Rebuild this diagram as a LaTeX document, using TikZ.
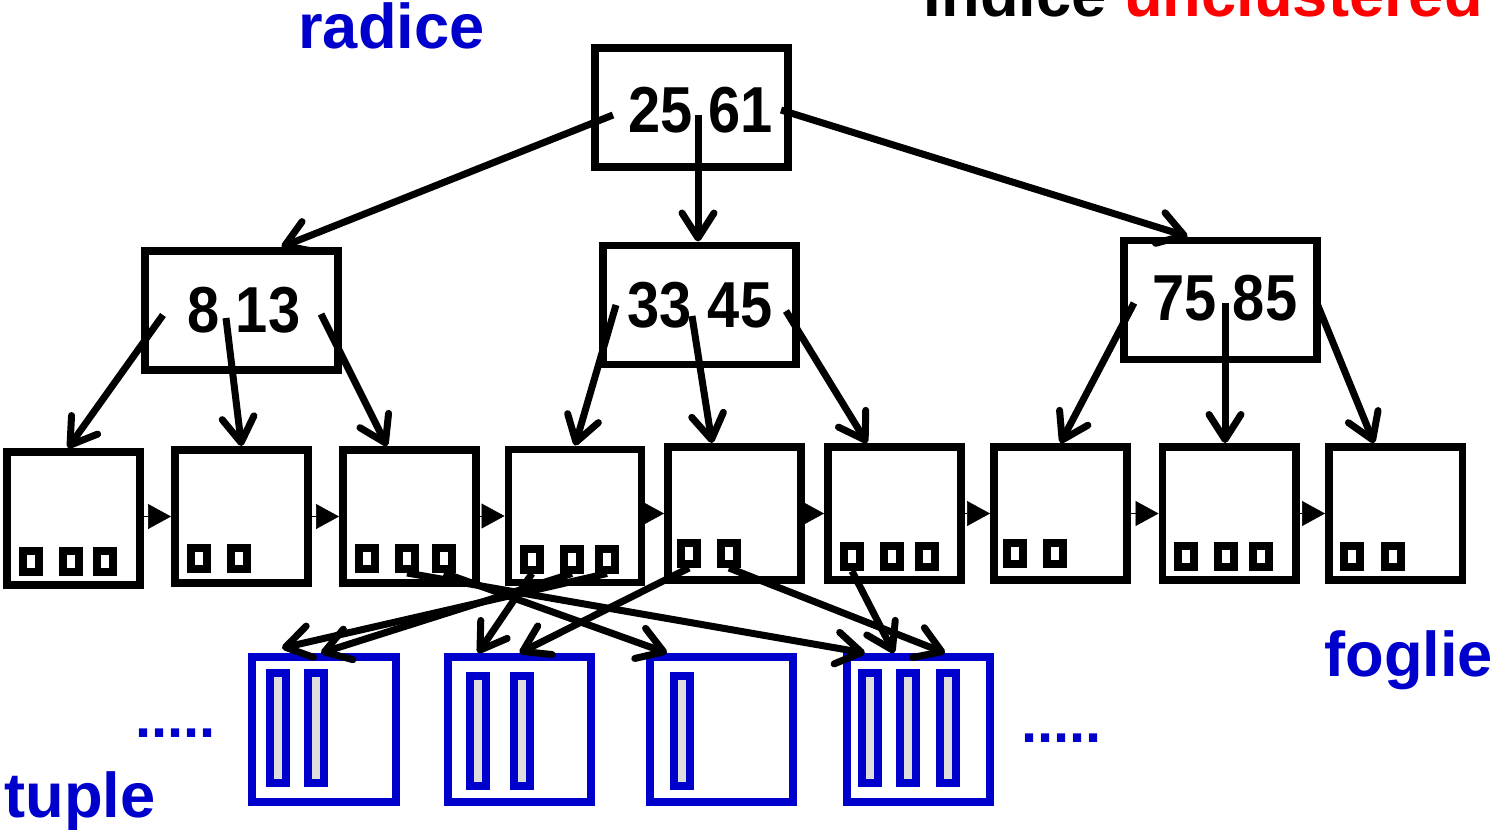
\documentclass[tikz,border=0pt]{standalone}
\usepackage{fontspec}
\setmainfont{Liberation Sans}
\newfontfamily\condfont[FakeStretch=0.89]{Liberation Sans}
\usetikzlibrary{arrows.meta,calc}
\definecolor{dblue}{RGB}{0,0,204}
\definecolor{lgray}{RGB}{221,221,221}
\begin{document}
\begin{tikzpicture}[x=0.02cm,y=-0.02cm,
  ibox/.style={draw, line width=0.15cm, minimum width=3.87cm, minimum height=2.39cm, inner sep=0},
  lbox/.style={draw, line width=0.15cm, minimum width=2.67cm, minimum height=2.67cm, inner sep=0},
  ptr/.style={draw, fill=white, line width=0.16cm, minimum width=0.32cm, minimum height=0.42cm, inner sep=0},
  tbox/.style={draw=dblue, line width=0.16cm, minimum width=2.88cm, minimum height=2.90cm, inner sep=0},
  tbar/.style={draw=dblue, fill=lgray, line width=0.16cm, minimum width=0.32cm, minimum height=2.20cm, inner sep=0},
  key/.style={font=\condfont\fontsize{37}{37}\selectfont\bfseries, inner sep=0, anchor=base},
  lbl/.style={font=\fontsize{36}{36}\selectfont\bfseries, inner sep=0, text=dblue, anchor=base west},
  dots/.style={font=\fontsize{33}{33}\selectfont\bfseries, inner sep=0, text=dblue, anchor=base west},
  arr/.style={line width=0.14cm, -{Straight Barb[length=0.5cm,width=0.64cm,round]}},
  link/.style={line width=0.01cm, -{Triangle[length=0.46cm,width=0.5cm]}}
]
\useasboundingbox (0,0) rectangle (1498,829);

% internal nodes
\node[ibox] (root) at (691.5,107.5) {};
\node[ibox] (I1) at (241.5,310.5) {};
\node[ibox] (I2) at (699.5,305) {};
\node[ibox] (I3) at (1220.5,300) {};
\node[key] (k0) at (700.5,132) {25 61};
\node[key] (k1) at (244,332) {8 13};
\node[key] (k2) at (700,327) {33 45};
\node[key] (k3) at (1225,320) {75 85};

% leaves
\foreach \n/\x/\y in {L1/73.5/518.5, L2/241.5/516.5, L3/409.5/516.5, L4/575/516,
  L5/734.5/513.5, L6/894.5/513.5, L7/1060.5/513.5, L8/1229/513.5, L9/1395.5/513.5}
  \node[lbox] (\n) at (\x,\y) {};

% pointers in leaves
\foreach \n/\x/\y in {L1a/31/561.5, L1b/71/561.5, L1c/105/561.5,
  L2a/199/558.5, L2b/238.5/558.5,
  L3a/366.5/558.5, L3b/407/558.5, L3c/444/558.5,
  L4a/532/559, L4b/572/559, L4c/607/559,
  L5a/689/553.5, L5b/729/553.5,
  L6a/852/556.5, L6b/892/556.5, L6c/927/556.5,
  L7a/1014.5/553.5, L7b/1055/553.5,
  L8a/1186/556.5, L8b/1226/556.5, L8c/1261/556.5,
  L9a/1352/556.5, L9b/1393/556.5}
  \node[ptr] (\n) at (\x,\y) {};

% sibling links
\foreach \a/\b in {L1/L2, L2/L3, L3/L4, L4/L5, L5/L6, L6/L7, L7/L8, L8/L9}
  \draw[link] (\a.east |- \b.west) -- (\b.west);

% tuple pages
\node[tbox] (T1) at (324,729.5) {};
\node[tbox] (T2) at (519.5,729.5) {};
\node[tbox] (T3) at (721.5,729.5) {};
\node[tbox] (T4) at (918.5,729.5) {};
\foreach \n/\x/\y in {T1a/278/728, T1b/316/728, T2a/478/730.5, T2b/521.5/730.5,
  T3a/681.5/730.5, T4a/870/728, T4b/907.5/728, T4c/948/728}
  \node[tbar] (\n) at (\x,\y) {};

% arrow start points inside internal nodes
\coordinate (r1) at (613,115);
\coordinate (r2) at (698,115);
\coordinate (r3) at (781,110);
\coordinate (a1) at (163,315);
\coordinate (a2) at (226,318);
\coordinate (a3) at (321,314);
\coordinate (b1) at (616,305);
\coordinate (b2) at (692,316);
\coordinate (b3) at (786,311);
\coordinate (c1) at (1134,303);
\coordinate (c2) at (1225,303);
\coordinate (c3) at (1316,301);

% tree arrows
\draw[arr] (r1) -- ($(I1.north)+(40,0)$);
\draw[arr] (r2) -- (r2 |- I2.north);
\draw[arr] (r3) -- ($(I3.north)+(-33,0)$);
\draw[arr] (a1) -- ($(L1.north)+(-5.5,0)$);
\draw[arr] (a2) -- (L2.north);
\draw[arr] (a3) -- ($(L3.north)+(-22.5,0)$);
\draw[arr] (b1) -- (L4.north);
\draw[arr] (b2) -- ($(L5.north)+(-22.5,0)$);
\draw[arr] (b3) -- ($(L6.north)+(-27.5,0)$);
\draw[arr] (c1) -- (L7.north);
\draw[arr] (c2) -- (c2 |- L8.north);
\draw[arr] (c3) -- ($(L9.north)+(-21.5,0)$);

% leaf -> tuple arrows
\draw[arr] (L3b.south) -- ($(T4.north)+(-53.5,0)$);
\draw[arr] (L3c.south) -- ($(T3.north)+(-54.5,0)$);
\draw[arr] (L4a.south) -- ($(T2.north)+(-41.5,0)$);
\draw[arr] (L4b.south) -- ($(T1.north)+(-3,0)$);
\draw[arr] (L4c.south) -- ($(T1.north)+(-42,-5)$);
\draw[arr] (L5a.south) -- (T2.north);
\draw[arr] (L5b.south) -- ($(T4.north)+(26.5,0)$);
\draw[arr] (L6a.south) -- ($(T4.north)+(-24.5,0)$);

% labels
\node[lbl] (radice) at (298,48.5) {radice};
\node[font=\fontsize{36}{36}\selectfont\bfseries, inner sep=0, anchor=base east] (title) at (1483,16) {Indice \textcolor{red}{unclustered}};
\node[lbl] (foglie) at (1324,676) {foglie};
\node[lbl] (tuple) at (4,817) {tuple};
\node[dots] (d1) at (135,737) {.....};
\node[dots] (d2) at (1021,742) {.....};
\end{tikzpicture}
\end{document}
